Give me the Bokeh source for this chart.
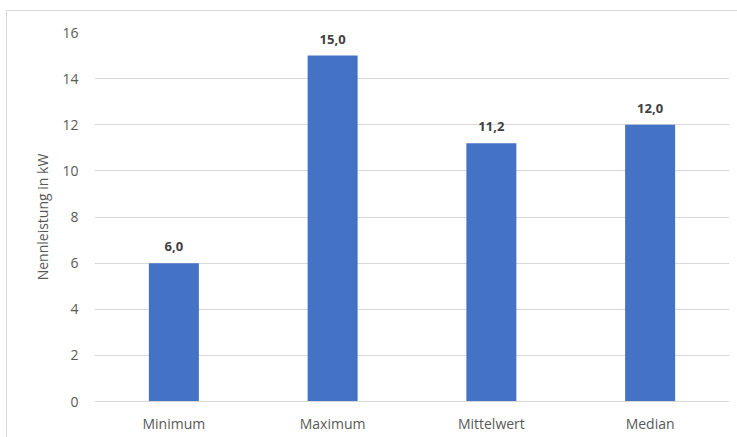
from bokeh.plotting import figure
from bokeh.models import ColumnDataSource, LabelSet, FixedTicker
from bokeh.core.properties import value
from bokeh.embed import file_html
from bokeh.resources import INLINE

categories = ["Minimum", "Maximum", "Mittelwert", "Median"]
values = [6.0, 15.0, 11.2, 12.0]
value_labels = ["6,0", "15,0", "11,2", "12,0"]
y_ticks = [0, 2, 4, 6, 8, 10, 12, 14, 16]

src = ColumnDataSource(dict(cat=categories, val=values, lab=value_labels))

p = figure(width=731, height=427, x_range=categories, y_range=(0, 16),
           output_backend="svg", toolbar_location=None,
           min_border_left=87, min_border_right=9, min_border_top=21, min_border_bottom=37)
p.styles = {"margin-left": "6px", "margin-top": "10px",
            "border-left": "1.5px solid #d9d9d9", "border-top": "1.5px solid #d9d9d9"}
p.outline_line_color = None
p.background_fill_color = "white"
p.border_fill_color = "white"

p.vbar(x="cat", top="val", width=0.315, source=src, fill_color="#4472C4", line_color=None)

labels = LabelSet(x="cat", y="val", text="lab", source=src, text_align="center",
                  text_baseline="alphabetic", y_offset=12, text_font=value("Open Sans"),
                  text_font_style="bold", text_font_size="13px", text_color="#404040")
p.add_layout(labels)

p.yaxis.ticker = FixedTicker(ticks=y_ticks)
p.yaxis.axis_line_color = None
p.yaxis.major_tick_line_color = None
p.yaxis.minor_tick_line_color = None
p.yaxis.major_label_standoff = 10
p.yaxis.major_label_text_font = "Open Sans"
p.yaxis.major_label_text_font_size = "14px"
p.yaxis.major_label_text_color = "#595959"
p.yaxis.axis_label = "Nennleistung in kW"
p.yaxis.axis_label_text_font = "Open Sans"
p.yaxis.axis_label_text_font_size = "14px"
p.yaxis.axis_label_text_font_style = "normal"
p.yaxis.axis_label_text_color = "#595959"
p.yaxis.axis_label_standoff = 7

p.xaxis.axis_line_color = "#d9d9d9"
p.xaxis.major_tick_line_color = None
p.xaxis.minor_tick_line_color = None
p.xaxis.major_label_standoff = 6
p.xaxis.major_label_text_font = "Open Sans"
p.xaxis.major_label_text_font_size = "14px"
p.xaxis.major_label_text_color = "#595959"

p.xgrid.grid_line_color = None
p.ygrid.grid_line_color = "#d9d9d9"
p.ygrid.grid_line_width = 1

open("out.html", "w").write(file_html(p, INLINE))
